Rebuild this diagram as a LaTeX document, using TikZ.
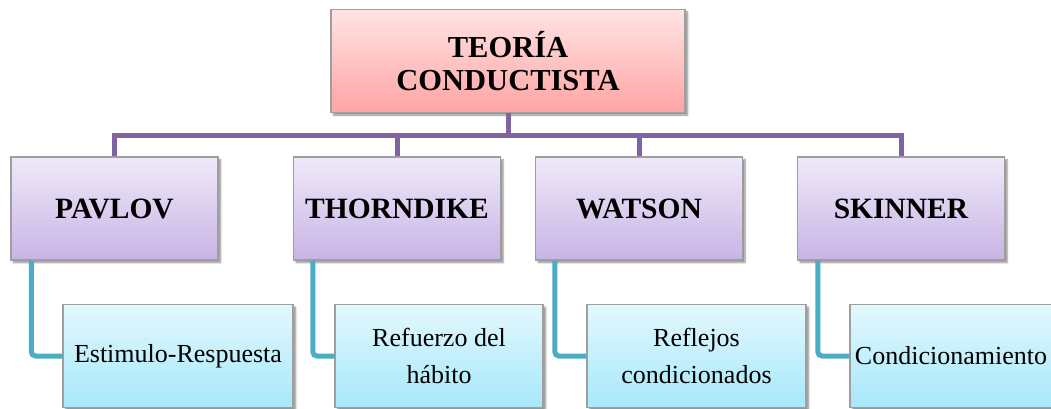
\documentclass[tikz,border=0pt]{standalone}
\usepackage{fontspec}
\setmainfont{Liberation Serif}
\usetikzlibrary{shadows.blur}
\definecolor{rootTop}{RGB}{255,228,228}
\definecolor{rootBot}{RGB}{255,164,164}
\definecolor{nameTop}{RGB}{239,233,249}
\definecolor{nameBot}{RGB}{200,180,229}
\definecolor{ideaTop}{RGB}{227,248,254}
\definecolor{ideaBot}{RGB}{166,232,250}
\definecolor{busColor}{RGB}{128,100,162}
\definecolor{leafColor}{RGB}{75,172,198}
\begin{document}
\begin{tikzpicture}[x=1pt, y=-1pt,
	BoxStyle/.style={draw=gray!75, line width=1.2pt, inner sep=0pt, minimum height=103pt, align=center, blur shadow={shadow xshift=2.5pt, shadow yshift=-2.5pt, shadow blur steps=6, shadow opacity=45}},
	RootStyle/.style={BoxStyle, top color=rootTop, bottom color=rootBot, minimum width=354pt, font=\bfseries\fontsize{30.5}{33}\selectfont},
	NameStyle/.style={BoxStyle, top color=nameTop, bottom color=nameBot, minimum width=207pt, font=\bfseries\fontsize{29.5}{32}\selectfont},
	IdeaStyle/.style={BoxStyle, top color=ideaTop, bottom color=ideaBot, font=\fontsize{26}{37}\selectfont},
	BusLine/.style={draw=busColor, line width=5pt},
	LeafLine/.style={draw=leafColor, line width=5pt, rounded corners=4pt}]
	\useasboundingbox (0,0) rectangle (1051,409);
	\node[RootStyle] (root) at (508,61) {TEORÍA\\CONDUCTISTA};
	\node[NameStyle] (pavlov) at (114.5,208.5) {PAVLOV};
	\node[NameStyle] (thorndike) at (397,208.5) {THORNDIKE};
	\node[NameStyle] (watson) at (639,208.5) {WATSON};
	\node[NameStyle] (skinner) at (901,208.5) {SKINNER};
	\node[IdeaStyle, minimum width=230pt] (estimulo) at (178,356) {Estimulo-Respuesta};
	\node[IdeaStyle, minimum width=208pt] (refuerzo) at (439,356) {Refuerzo del\\hábito};
	\node[IdeaStyle, minimum width=219pt] (reflejos) at (696.5,356) {Reflejos\\condicionados};
	\node[IdeaStyle, minimum width=202pt] (condic) at (951,356) {Condicionamiento};
	\coordinate (bus) at (508,135);
	\draw[BusLine] (root.south) -- (bus);
	\draw[BusLine] (bus) -| (pavlov.north);
	\draw[BusLine] (bus) -| (thorndike.north);
	\draw[BusLine] (bus) -| (watson.north);
	\draw[BusLine] (bus) -| (skinner.north);
	\draw[LeafLine] ([xshift=21pt]pavlov.south west) |- (estimulo.west);
	\draw[LeafLine] ([xshift=20pt]thorndike.south west) |- (refuerzo.west);
	\draw[LeafLine] ([xshift=20pt]watson.south west) |- (reflejos.west);
	\draw[LeafLine] ([xshift=21pt]skinner.south west) |- (condic.west);
\end{tikzpicture}
\end{document}
